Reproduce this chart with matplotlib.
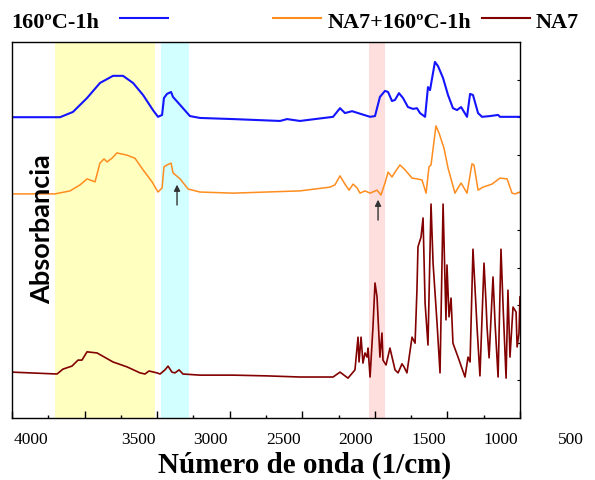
import matplotlib
matplotlib.use("Agg")
import matplotlib.pyplot as plt
from matplotlib.lines import Line2D

# espectros FTIR (numero de onda, absorbancia desplazada)
wn_160 = [4000, 3669, 3580, 3483, 3394, 3304, 3235, 3166, 3097, 3029, 2994, 2966, 2953, 2932, 2904,
          2891, 2829, 2774, 2705, 2477, 2153, 2105, 2016, 1788, 1740, 1706, 1657, 1616, 1533, 1499,
          1465, 1430, 1409, 1382, 1361, 1334, 1306, 1272, 1237, 1210, 1189, 1154, 1134, 1120, 1086,
          1065, 1030, 996, 962, 934, 906, 865, 844, 824, 789, 762, 707, 651, 638, 500]
abs_160 = [8.00, 8.00, 8.14, 8.51, 8.91, 9.10, 9.10, 8.91, 8.59, 8.19, 8.01, 8.06, 8.51, 8.62, 8.67,
           8.54, 8.27, 8.03, 7.98, 7.95, 7.90, 7.95, 7.90, 8.01, 8.24, 8.11, 8.16, 8.11, 8.01, 8.03,
           8.54, 8.70, 8.67, 8.43, 8.46, 8.64, 8.51, 8.27, 8.22, 8.24, 8.11, 8.01, 8.80, 8.72, 9.47,
           9.36, 9.04, 8.59, 8.24, 8.19, 8.27, 8.01, 8.62, 8.59, 8.11, 8.01, 8.03, 8.06, 8.01, 8.01]

wn_mix = [4000, 3704, 3600, 3531, 3483, 3428, 3394, 3366, 3345, 3311, 3277, 3208, 3153, 3097, 3035,
          2994, 2966, 2953, 2932, 2904, 2891, 2842, 2787, 2705, 2477, 2016, 1809, 1775, 1740, 1706,
          1678, 1650, 1623, 1602, 1568, 1533, 1485, 1458, 1430, 1409, 1382, 1361, 1327, 1292, 1244,
          1210, 1175, 1147, 1127, 1113, 1079, 1058, 1024, 996, 948, 927, 906, 865, 831, 817,
          789, 755, 693, 638, 589, 555, 534, 500]
abs_mix = [5.96, 5.96, 6.04, 6.20, 6.36, 6.28, 6.78, 6.89, 6.81, 6.91, 7.05, 6.99, 6.91, 6.60, 6.28,
           6.01, 6.12, 6.68, 6.73, 6.78, 6.52, 6.36, 6.09, 6.01, 5.98, 6.04, 6.14, 6.20, 6.44, 6.22,
           6.06, 6.22, 6.12, 5.98, 6.04, 5.98, 6.06, 5.93, 6.25, 6.54, 6.41, 6.54, 6.73, 6.60, 6.38,
           6.36, 6.33, 5.98, 6.68, 6.73, 7.77, 7.58, 7.18, 6.65, 5.98, 6.12, 6.25, 5.98, 6.76, 6.73,
           6.06, 6.14, 6.22, 6.38, 6.36, 5.98, 5.96, 6.01]

wn_na7 = [4000, 3690, 3649, 3587, 3545, 3518, 3483, 3414, 3304, 3208, 3118, 3084, 3056, 3001, 2980,
          2946, 2925, 2898, 2877, 2849, 2822, 2705, 2477, 2243, 2016, 1788, 1740, 1685, 1637, 1616,
          1609, 1595, 1582, 1568, 1554, 1547, 1533, 1513, 1499, 1485, 1465, 1451, 1444, 1423, 1396,
          1361, 1340, 1313, 1299, 1279, 1244, 1223, 1210, 1203, 1182, 1168, 1154, 1134, 1113, 1099,
          1072, 1051, 1030, 1010, 1003, 989, 975, 962, 927, 879, 858, 844, 824, 796, 776,
          748, 734, 727, 713, 686, 672, 651, 631, 617, 596, 583, 569, 548, 527, 520,
          507, 500]
abs_na7 = [1.22, 1.17, 1.30, 1.38, 1.54, 1.54, 1.76, 1.73, 1.49, 1.36, 1.20, 1.17, 1.25, 1.20, 1.17,
           1.28, 1.38, 1.22, 1.20, 1.28, 1.17, 1.14, 1.14, 1.12, 1.09, 1.09, 1.22, 1.06, 1.28, 2.15,
           1.49, 2.15, 1.46, 1.73, 1.62, 1.86, 1.09, 2.42, 3.59, 3.22, 1.62, 2.26, 1.54, 1.41, 1.86,
           1.28, 1.20, 1.44, 1.36, 1.20, 2.15, 1.99, 3.40, 4.55, 4.81, 5.32, 3.06, 1.94, 5.69, 4.12,
           2.55, 1.20, 5.69, 2.61, 4.07, 2.69, 3.19, 1.99, 1.62, 1.09, 1.62, 1.49, 4.49, 2.42, 1.12,
           4.12, 3.06, 2.42, 1.60, 3.75, 2.53, 1.09, 4.49, 3.01, 1.06, 3.40, 1.62, 2.95, 2.82, 1.89,
           2.26, 3.22]

bands = [(3704, 3015), (2973, 2780), (1540, 1430)]
band_colors = ["#FFFFC0", "#D2FFFF", "#FFDEDE"]

arrow_wn = [2863, 1478]
arrow_tail = [5.59, 5.19]
arrow_head = [6.28, 5.88]

tick_texts = ["4000", "3500", "3000", "2500", "2000", "1500", "1000", "500"]
tick_text_px = [31, 138, 210, 284, 356, 429, 501, 571]

fig = plt.figure(figsize=(5.95, 4.8), dpi=100)
ax = fig.add_axes([12/595, 62/480, 508/595, 376/480])

for (a, b), c in zip(bands, band_colors):
    ax.axvspan(a, b, color=c, lw=0, zorder=0)

ax.plot(wn_160, abs_160, color="#1414FF", lw=1.5)
ax.plot(wn_mix, abs_mix, color="#FF8C1E", lw=1.1)
ax.plot(wn_na7, abs_na7, color="#820000", lw=1.2)

for x, y0, y1 in zip(arrow_wn, arrow_tail, arrow_head):
    ax.annotate("", xy=(x, y1), xytext=(x, y0),
                arrowprops=dict(arrowstyle="-|>", color="#333333", lw=1.0, mutation_scale=9))

ax.set_xlim(4000, 500)
ax.set_ylim(0, 10)
ax.set_xticks(range(4000, 499, -500))
ax.set_xticks(range(3750, 500, -500), minor=True)
ax.tick_params(axis="x", which="major", direction="in", length=5, width=1, labelbottom=False)
ax.tick_params(axis="x", which="minor", direction="in", length=2.5, width=1)
ax.set_yticks(range(1, 10))
ax.tick_params(axis="y", direction="in", length=2.5, width=0.8, left=False, right=True,
               labelleft=False, labelright=False)
for s in ax.spines.values():
    s.set_linewidth(1.0)

# etiquetas del eje x (desplazadas como en el original)
for t, px in zip(tick_texts, tick_text_px):
    fig.text(px/595, 1 - 440/480, t, ha="center", va="center",
             family="Liberation Serif", fontsize=12.5)

fig.text(305/595, 1 - 465/480, "Número de onda (1/cm)", ha="center", va="center",
         family="Liberation Serif", fontweight="bold", fontsize=21)

fig.text(42.5/595, 1 - 229/480, "Absorbancia", rotation=90, ha="center", va="center",
         family="Lato", fontweight="bold", fontsize=19.5)

# leyenda
ly = 1 - 27.5/480
fig.text(11/595, ly, "160ºC-1h", ha="left", va="baseline",
         family="Liberation Serif", fontweight="bold", fontsize=16)
fig.text(328/595, ly, "NA7+160ºC-1h", ha="left", va="baseline",
         family="Liberation Serif", fontweight="bold", fontsize=16)
fig.text(536/595, ly, "NA7", ha="left", va="baseline",
         family="Liberation Serif", fontweight="bold", fontsize=16)
lny = 1 - 18/480
for x0, x1, c in [(120, 168, "#1414FF"), (273, 321, "#FF8C1E"), (482, 530, "#820000")]:
    fig.add_artist(Line2D([x0/595, x1/595], [lny, lny], color=c, lw=1.5, transform=fig.transFigure))

fig.savefig("out.png", dpi=100)
